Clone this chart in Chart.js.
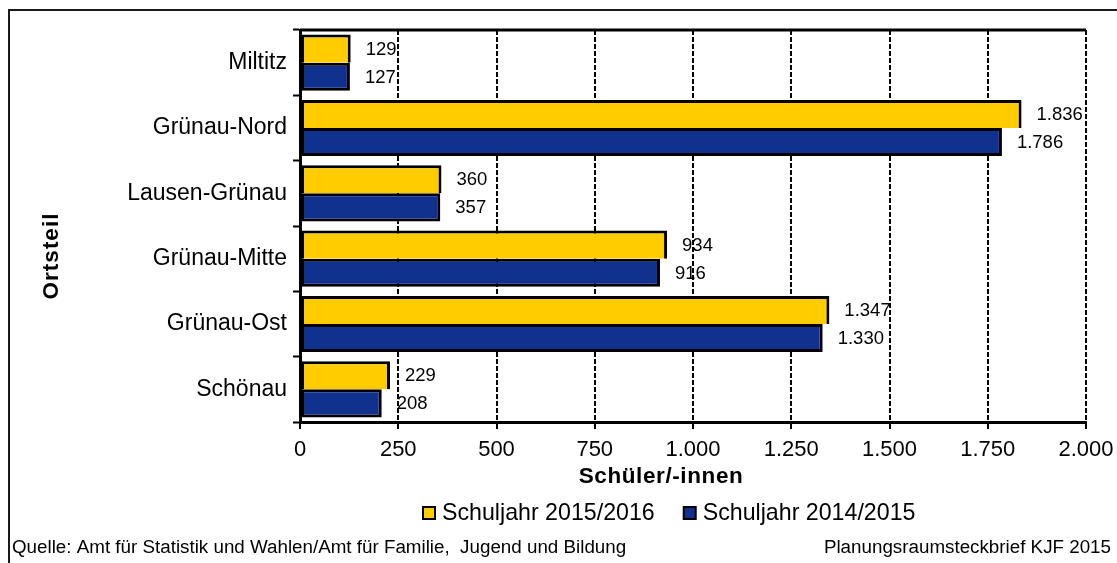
<!DOCTYPE html>
<html>
<head>
<meta charset="utf-8">
<script src="https://cdn.jsdelivr.net/npm/chart.js@4.4.1/dist/chart.umd.min.js"></script>
<style>
  html, body { margin: 0; padding: 0; background: #fff; }
  #wrap { width: 1117px; height: 563px; position: relative; }
</style>
</head>
<body>
<div id="wrap"><canvas id="c"></canvas></div>
<script>
const categories = ['Miltitz', 'Grünau-Nord', 'Lausen-Grünau', 'Grünau-Mitte', 'Grünau-Ost', 'Schönau'];
const seriesNames = ['Schuljahr 2015/2016', 'Schuljahr 2014/2015'];
const values20152016 = [129, 1836, 360, 934, 1347, 229];
const values20142015 = [127, 1786, 357, 916, 1330, 208];
const xTickMin = 0, xTickMax = 2000, xTickStep = 250;
const xAxisTitle = 'Schüler/-innen';
const yAxisTitle = 'Ortsteil';
const sourceNote = 'Quelle: Amt für Statistik und Wahlen/Amt für Familie,  Jugend und Bildung';
const creditNote = 'Planungsraumsteckbrief KJF 2015';

const FONT = "'Liberation Sans', Arial, Helvetica, sans-serif";
const YELLOW = '#FFCC00';
const NAVY = '#11318F';

function fmt(v) {
  return String(Math.round(v)).replace(/\B(?=(\d{3})+(?!\d))/g, '.');
}

const decor = {
  id: 'decor',
  beforeDraw(chart) {
    const {ctx, width, height} = chart;
    ctx.save();
    ctx.fillStyle = '#fff';
    ctx.fillRect(0, 0, width, height);
    ctx.strokeStyle = '#1a1a1a';
    ctx.lineWidth = 2;
    ctx.beginPath();
    ctx.moveTo(9, height + 5);
    ctx.lineTo(9, 10);
    ctx.lineTo(width + 5, 10);
    ctx.stroke();
    ctx.restore();
  },
  afterDatasetsDraw(chart) {
    const {ctx} = chart;
    ctx.save();
    ctx.fillStyle = '#000';
    ctx.font = '18.5px ' + FONT;
    ctx.textAlign = 'left';
    ctx.textBaseline = 'middle';
    chart.data.datasets.forEach((ds, di) => {
      const meta = chart.getDatasetMeta(di);
      meta.data.forEach((el, i) => {
        const p = el.getProps(['x', 'y'], true);
        ctx.fillText(fmt(ds.data[i]), p.x + 15, p.y + 1);
      });
    });
    ctx.restore();
  },
  afterDraw(chart) {
    const {ctx, chartArea} = chart;
    ctx.save();
    // top frame line of plot area
    ctx.strokeStyle = '#000';
    ctx.lineWidth = 3;
    ctx.beginPath();
    ctx.moveTo(chartArea.left, chartArea.top);
    ctx.lineTo(chartArea.right, chartArea.top);
    ctx.stroke();

    ctx.fillStyle = '#000';
    // x axis title
    ctx.font = 'bold 22.5px ' + FONT;
    ctx.letterSpacing = '0.6px';
    ctx.textAlign = 'center';
    ctx.textBaseline = 'middle';
    ctx.fillText(xAxisTitle, 661, 477);
    // y axis title
    ctx.save();
    ctx.translate(52, 256);
    ctx.rotate(-Math.PI / 2);
    ctx.letterSpacing = '1px';
    ctx.fillText(yAxisTitle, 0, 0);
    ctx.restore();
    ctx.letterSpacing = '0px';

    // legend
    ctx.font = '23.2px ' + FONT;
    ctx.textAlign = 'left';
    ctx.textBaseline = 'middle';
    let x = 423;
    const ly = 513;
    chart.data.datasets.forEach((ds) => {
      ctx.fillStyle = ds.backgroundColor;
      ctx.fillRect(x, ly - 6, 12, 12);
      ctx.strokeStyle = '#000';
      ctx.lineWidth = 2;
      ctx.strokeRect(x, ly - 6, 12, 12);
      ctx.fillStyle = '#000';
      ctx.fillText(ds.label, x + 19, ly + 1);
      x += 19 + ctx.measureText(ds.label).width + 29;
    });

    // footer
    ctx.font = '18.8px ' + FONT;
    ctx.textAlign = 'left';
    ctx.fillText(sourceNote, 12, 548);
    ctx.textAlign = 'right';
    ctx.fillText(creditNote, 1111, 548);
    ctx.restore();
  }
};

const ctx = document.getElementById('c');
new Chart(ctx, {
  type: 'bar',
  data: {
    labels: categories,
    datasets: [
      {
        label: seriesNames[0],
        data: values20152016,
        backgroundColor: YELLOW,
        borderColor: '#000',
        borderWidth: 3,
        borderSkipped: 'bottom'
      },
      {
        label: seriesNames[1],
        data: values20142015,
        backgroundColor: NAVY,
        borderColor: '#000',
        borderWidth: 3,
        borderSkipped: false
      }
    ]
  },
  options: {
    indexAxis: 'y',
    responsive: true,
    maintainAspectRatio: false,
    animation: false,
    categoryPercentage: 0.86,
    barPercentage: 1.0,
    layout: { padding: { top: 30, right: 31, bottom: 81, left: 0 } },
    plugins: {
      legend: { display: false },
      tooltip: { enabled: false },
      title: { display: false }
    },
    scales: {
      x: {
        type: 'linear',
        min: xTickMin,
        max: xTickMax,
        afterFit(s) { s.height = 60; },
        ticks: {
          stepSize: xTickStep,
          color: '#000',
          font: { family: FONT, size: 22, lineHeight: 1.65 },
          padding: 3,
          maxRotation: 0,
          callback: (v) => fmt(v)
        },
        grid: {
          color: '#000',
          lineWidth: 2,
          drawTicks: true,
          tickLength: 7,
          tickColor: '#000',
          tickWidth: 2,
          tickBorderDash: []
        },
        border: { display: true, color: '#000', width: 3, dash: [5, 2] }
      },
      y: {
        type: 'category',
        afterFit(s) { s.width = 300; },
        ticks: {
          color: '#000',
          font: { family: FONT, size: 23 },
          padding: 6
        },
        grid: {
          display: true,
          offset: true,
          drawOnChartArea: false,
          drawTicks: true,
          tickLength: 7,
          tickColor: '#000',
          tickWidth: 2
        },
        border: { display: true, color: '#000', width: 3 }
      }
    }
  },
  plugins: [decor]
});
</script>
</body>
</html>
